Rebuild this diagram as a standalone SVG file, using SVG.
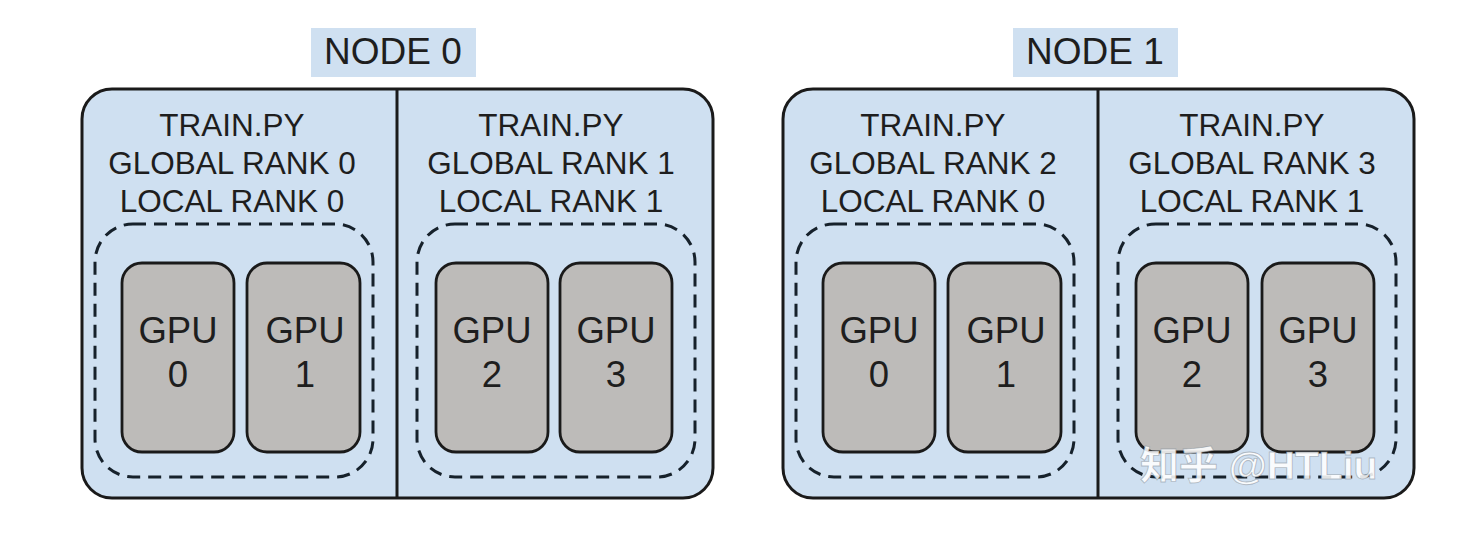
<svg xmlns="http://www.w3.org/2000/svg" width="1460" height="546" viewBox="0 0 1460 546">
<style>
.bg{fill:#ffffff}
.outer{fill:#cfe0f1;stroke:#1a1a1a;stroke-width:3}
.div{stroke:#1a1a1a;stroke-width:3}
.label{fill:#cfe0f1}
.dash{fill:none;stroke:#16212b;stroke-width:3;stroke-dasharray:13 8}
.gpu{fill:#bdbbb9;stroke:#1a1a1a;stroke-width:2.8}
text{font-family:"Liberation Sans",Arial,sans-serif;fill:#1e1e1e;text-anchor:middle}
.t{font-size:31.5px}
.n{font-size:37px}
.g{font-size:36.5px}
.wm{font-family:"Liberation Sans","Noto Sans CJK SC",sans-serif;font-size:39px;font-weight:bold;fill:#ffffff;fill-opacity:0.9;stroke:#7f8b96;stroke-width:0.9;stroke-opacity:0.55;text-anchor:start}
</style>
<rect class="bg" x="0" y="0" width="1460" height="546"/>
<g id="node0">
  <rect class="label" x="311" y="28" width="165" height="49"/>
  <text class="n" x="393" y="64">NODE 0</text>
  <rect class="outer" x="82" y="89" width="631" height="409" rx="30"/>
  <line class="div" x1="397" y1="89" x2="397" y2="498"/>
  <g id="proc0">
    <text class="t" x="232" y="136">TRAIN.PY</text>
    <text class="t" x="232" y="174">GLOBAL RANK 0</text>
    <text class="t" x="232" y="212">LOCAL RANK 0</text>
    <rect class="dash" x="95" y="224" width="278" height="253" rx="38"/>
    <g id="n0gpu0"><rect class="gpu" x="122" y="263" width="112" height="189" rx="20"/><text class="g" x="178" y="343">GPU</text><text class="g" x="178" y="387">0</text></g>
    <g id="n0gpu1"><rect class="gpu" x="247" y="263" width="113" height="189" rx="20"/><text class="g" x="305" y="343">GPU</text><text class="g" x="305" y="387">1</text></g>
  </g>
  <g id="proc1">
    <text class="t" x="551" y="136">TRAIN.PY</text>
    <text class="t" x="551" y="174">GLOBAL RANK 1</text>
    <text class="t" x="551" y="212">LOCAL RANK 1</text>
    <rect class="dash" x="417" y="224" width="278" height="253" rx="38"/>
    <g id="n0gpu2"><rect class="gpu" x="436" y="263" width="112" height="189" rx="20"/><text class="g" x="492" y="343">GPU</text><text class="g" x="492" y="387">2</text></g>
    <g id="n0gpu3"><rect class="gpu" x="560" y="263" width="112" height="189" rx="20"/><text class="g" x="616" y="343">GPU</text><text class="g" x="616" y="387">3</text></g>
  </g>
</g>
<g id="node1">
  <rect class="label" x="1013" y="28" width="165" height="49"/>
  <text class="n" x="1095" y="64">NODE 1</text>
  <rect class="outer" x="783" y="89" width="631" height="409" rx="30"/>
  <line class="div" x1="1098" y1="89" x2="1098" y2="498"/>
  <g id="proc2">
    <text class="t" x="933" y="136">TRAIN.PY</text>
    <text class="t" x="933" y="174">GLOBAL RANK 2</text>
    <text class="t" x="933" y="212">LOCAL RANK 0</text>
    <rect class="dash" x="796" y="224" width="278" height="253" rx="38"/>
    <g id="n1gpu0"><rect class="gpu" x="823" y="263" width="112" height="189" rx="20"/><text class="g" x="879" y="343">GPU</text><text class="g" x="879" y="387">0</text></g>
    <g id="n1gpu1"><rect class="gpu" x="948" y="263" width="113" height="189" rx="20"/><text class="g" x="1006" y="343">GPU</text><text class="g" x="1006" y="387">1</text></g>
  </g>
  <g id="proc3">
    <text class="t" x="1252" y="136">TRAIN.PY</text>
    <text class="t" x="1252" y="174">GLOBAL RANK 3</text>
    <text class="t" x="1252" y="212">LOCAL RANK 1</text>
    <rect class="dash" x="1118" y="224" width="278" height="253" rx="38"/>
    <g id="n1gpu2"><rect class="gpu" x="1136" y="263" width="112" height="189" rx="20"/><text class="g" x="1192" y="343">GPU</text><text class="g" x="1192" y="387">2</text></g>
    <g id="n1gpu3"><rect class="gpu" x="1262" y="263" width="112" height="189" rx="20"/><text class="g" x="1318" y="343">GPU</text><text class="g" x="1318" y="387">3</text></g>
  </g>
</g>
<g id="connectors"/>
<text class="wm" x="1140" y="479">知乎 @HTLiu</text>
</svg>
